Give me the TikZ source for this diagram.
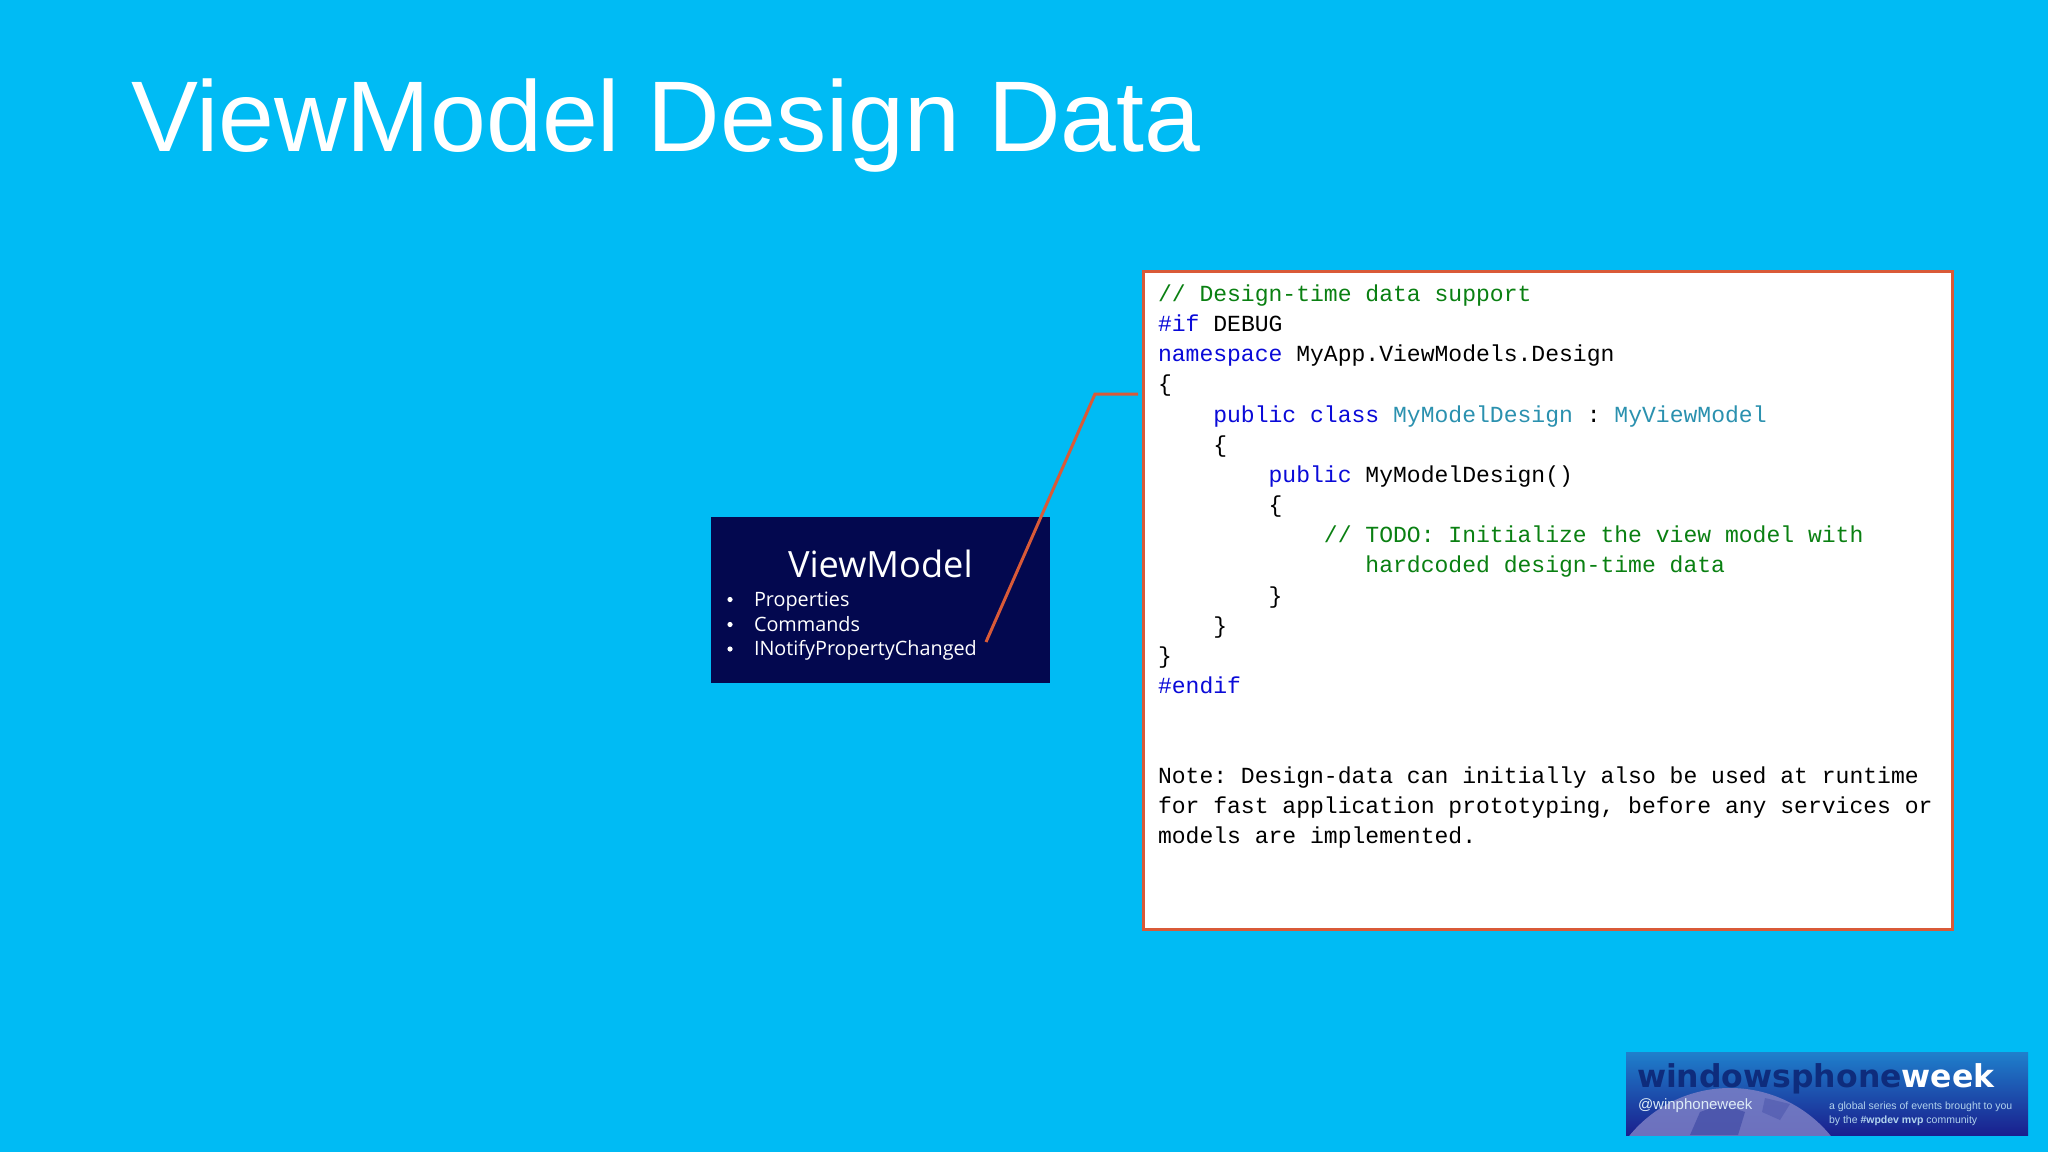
\documentclass[tikz,border=0pt]{standalone}
\usepackage{fontspec}
\setmainfont{Liberation Sans}
\setmonofont{Liberation Mono}
\newfontfamily\vmfont{Open Sans}
\newfontfamily\bannerfont{DejaVu Sans}
\definecolor{slidebg}{HTML}{00BBF4}
\definecolor{vmnavy}{HTML}{03084F}
\definecolor{calloutred}{HTML}{D95A38}
\definecolor{kwblue}{HTML}{0A0AD8}
\definecolor{cmgreen}{HTML}{0A8012}
\definecolor{typeteal}{HTML}{2B91AF}
\definecolor{globeblue}{HTML}{7C7FC6}
\definecolor{landblue}{HTML}{2F3C9C}
\definecolor{wptop}{HTML}{1F80CC}
\definecolor{wpbottom}{HTML}{1A1F8E}
\definecolor{wpdark}{HTML}{0E2C7C}
\newcommand{\kw}[1]{\textcolor{kwblue}{#1}}
\newcommand{\cm}[1]{\textcolor{cmgreen}{#1}}
\newcommand{\ty}[1]{\textcolor{typeteal}{#1}}
\newcommand{\ind}[1]{\hspace*{#1\dimexpr 13.83pt\relax}}
\begin{document}
\begin{tikzpicture}[x=1pt,y=-1pt,
		plain/.style={inner sep=0pt, outer sep=0pt, anchor=base west},
		code/.style={inner sep=0pt, outer sep=0pt, anchor=north west, align=left, font=\ttfamily\fontsize{23.05}{30.15}\selectfont},
		vmitem/.style={plain, text=white, font=\vmfont\fontsize{19.8}{24}\selectfont},
		callout/.style={draw=calloutred, line width=3pt}]
	\useasboundingbox (0,0) rectangle (2048,1152);
	\fill[slidebg] (0,0) rectangle (2048,1152);

	\node[plain, text=white, font=\fontsize{100.4}{110}\selectfont] (title) at (131,151) {ViewModel Design Data};

	\node[fill=vmnavy, inner sep=0pt, outer sep=0pt, anchor=north west, minimum width=339pt, minimum height=166pt] (viewmodel) at (711,517) {};
	\node[plain, text=white, font=\vmfont\fontsize{36.2}{40}\selectfont] (vmtitle) at (788,577) {ViewModel};
	\foreach \name/\ypos/\label in {props/606/Properties, cmds/631/Commands, inpc/655.5/INotifyPropertyChanged} {
		\node[vmitem] (\name) at (754,\ypos) {\label};
		\fill[white] (730,\ypos-6.5) circle (2.6);
	}

	\node[draw=calloutred, line width=3pt, fill=white, inner sep=0pt, outer sep=0pt, anchor=north west, minimum width=809pt, minimum height=658pt] (codebox) at (1143.5,271.5) {};
	\node[code] (codetext) at (1158,284.8) {%
		\cm{// Design-time data support}\\
		\kw{\#if} DEBUG\\
		\kw{namespace} MyApp.ViewModels.Design\\
		\{\\
		\ind{4}\kw{public class} \ty{MyModelDesign} : \ty{MyViewModel}\\
		\ind{4}\{\\
		\ind{8}\kw{public} MyModelDesign()\\
		\ind{8}\{\\
		\ind{12}\cm{// TODO: Initialize the view model with}\\
		\ind{15}\cm{hardcoded design-time data}\\
		\ind{8}\}\\
		\ind{4}\}\\
		\}\\
		\kw{\#endif}};
	\node[code] (note) at (1158,766.8) {%
		Note: Design-data can initially also be used at runtime\\
		for fast application prototyping, before any services or\\
		models are implemented.};

	\coordinate (calloutstart) at (986,642);
	\coordinate (calloutbend) at (1095,394);
	\coordinate (calloutend) at (1138,394);
	\draw[callout] (calloutstart) -- (calloutbend) -- (calloutend);

	\shade[top color=wptop, bottom color=wpbottom] (1626,1052) rectangle (2028,1135);
	\begin{scope}
		\clip (1626,1052) rectangle (2028,1135);
		\fill[globeblue, opacity=.85] (1730,1218) circle (130);
		\fill[landblue, opacity=.5] (1690,1135) -- (1700,1112) -- (1722,1104) -- (1745,1112) -- (1738,1135) -- cycle;
		\fill[landblue, opacity=.3] (1765,1098) -- (1790,1104) -- (1780,1120) -- (1762,1112) -- cycle;
	\end{scope}
	\node[plain, text=wpdark, font=\bannerfont\bfseries\fontsize{31.5}{34}\selectfont] (wpname) at (1637,1087) {windowsphone};
	\node[plain, text=white, font=\bannerfont\bfseries\fontsize{31.5}{34}\selectfont] (wpweek) at (wpname.base east) {week};
	\node[plain, text=white!85!wptop, font=\fontsize{15}{16}\selectfont] (wphandle) at (1638,1109) {@winphoneweek};
	\node[plain, text=white!65!wptop, font=\fontsize{10.5}{12}\selectfont] (wpline) at (1829,1109) {a global series of events brought to you};
	\node[plain, text=white!65!wptop, font=\fontsize{10.5}{12}\selectfont] (wpcommunity) at (1829,1123) {by the \textbf{\#wpdev mvp} community};
\end{tikzpicture}
\end{document}
